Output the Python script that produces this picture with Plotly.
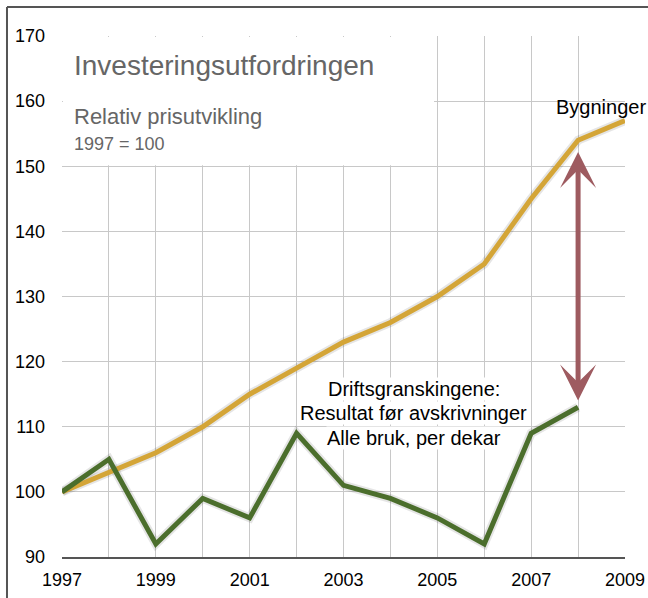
import plotly.graph_objects as go

years = list(range(1997, 2010))
bygninger = [100, 103, 106, 110, 115, 119, 123, 126, 130, 135, 145, 154, 157]
drift_years = list(range(1997, 2009))
drift = [100, 105, 92, 99, 96, 109, 101, 99, 96, 92, 109, 113]

x_ticks = [1997, 1999, 2001, 2003, 2005, 2007, 2009]
y_ticks = [90, 100, 110, 120, 130, 140, 150, 160, 170]

drift_label_lines = ["Driftsgranskingene:", "Resultat før avskrivninger", "Alle bruk, per dekar"]
drift_label_y = [115.85, 112.15, 108.3]

YELLOW = "#d4a537"
GREEN = "#4b6e2c"
ARROW = "#9e5b60"
GRID = "#c8c8c8"
FONT = "Liberation Sans, Arial, Helvetica, sans-serif"

fig = go.Figure()
# soft shadows
fig.add_trace(go.Scatter(x=years, y=bygninger, mode="lines",
                         line=dict(color="rgba(0,0,0,0.10)", width=9),
                         hoverinfo="skip", showlegend=False))
fig.add_trace(go.Scatter(x=drift_years, y=drift, mode="lines",
                         line=dict(color="rgba(0,0,0,0.10)", width=9),
                         hoverinfo="skip", showlegend=False))
fig.add_trace(go.Scatter(x=years, y=bygninger, mode="lines",
                         line=dict(color=YELLOW, width=5), showlegend=False))
fig.add_trace(go.Scatter(x=drift_years, y=drift, mode="lines",
                         line=dict(color=GREEN, width=5), showlegend=False))

# white legend box covering the grid
fig.add_shape(type="rect", xref="x", yref="y", x0=1997.02, x1=2004.93, y0=150.15, y1=169.85,
              fillcolor="white", line=dict(width=0), layer="between")

# outer frame (left + top)
fig.add_shape(type="line", xref="paper", yref="paper", x0=-0.0977, x1=-0.0977, y0=-0.2, y1=1.0557,
              line=dict(color="#555555", width=2))
fig.add_shape(type="line", xref="paper", yref="paper", x0=-0.0977, x1=1.2, y0=1.0557, y1=1.0557,
              line=dict(color="#555555", width=2))

anns = [
    dict(x=1997.22, y=165.4, text="Investeringsutfordringen", xanchor="left", yanchor="middle",
         font=dict(size=28, color="#666666", family=FONT), showarrow=False),
    dict(x=1997.22, y=157.7, text="Relativ prisutvikling", xanchor="left", yanchor="middle",
         font=dict(size=22, color="#666666", family=FONT), showarrow=False),
    dict(x=1997.22, y=153.4, text="1997 = 100", xanchor="left", yanchor="middle",
         font=dict(size=18, color="#666666", family=FONT), showarrow=False),
    dict(x=2008.49, y=159.1, text="Bygninger", xanchor="center", yanchor="middle",
         font=dict(size=20, color="black", family=FONT), showarrow=False),
    dict(x=2008, y=152.2, ax=2008, ay=113.8, axref="x", ayref="y", text="",
         showarrow=True, arrowhead=3, startarrowhead=3, arrowside="end+start",
         arrowsize=1.2, startarrowsize=1.2, arrowwidth=5, arrowcolor=ARROW),
]
for txt, yv in zip(drift_label_lines, drift_label_y):
    anns.append(dict(x=2004.5, y=yv, text=txt, xanchor="center", yanchor="middle",
                     bgcolor="white", borderpad=0, showarrow=False,
                     font=dict(size=20, color="black", family=FONT)))
fig.update_layout(annotations=anns)

fig.update_xaxes(range=[1997, 2009], tickvals=x_ticks, ticktext=[str(v) for v in x_ticks],
                 showgrid=True, gridcolor=GRID, gridwidth=1,
                 minor=dict(dtick=1, tick0=1997, showgrid=True, gridcolor=GRID, gridwidth=1),
                 showline=True, linecolor="#555555", linewidth=1.5, mirror=False,
                 ticks="", ticklabelstandoff=6, zeroline=False,
                 tickfont=dict(size=18, color="black", family=FONT))
fig.update_yaxes(range=[90, 170], tickvals=y_ticks, showgrid=True, gridcolor=GRID, gridwidth=1,
                 showline=False, ticks="", ticklabelstandoff=16, zeroline=False,
                 tickfont=dict(size=18, color="black", family=FONT))

fig.update_layout(width=648, height=598, margin=dict(l=62, r=23, t=36, b=41, autoexpand=False),
                  plot_bgcolor="white", paper_bgcolor="white", showlegend=False,
                  font=dict(family=FONT))

fig.write_html("out.html", config={"displayModeBar": False},
               post_script="document.body.style.margin='0';document.body.style.padding='0';"
                           "document.body.style.overflow='hidden';")
